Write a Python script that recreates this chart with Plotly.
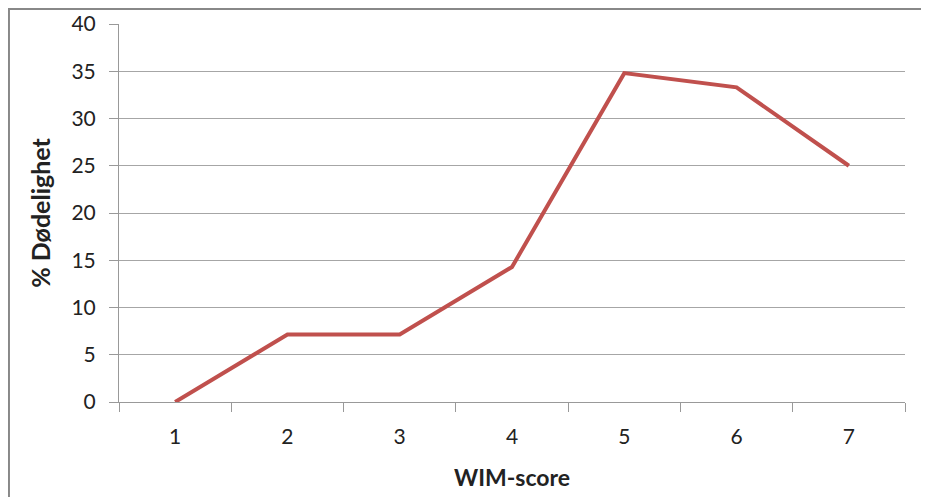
import plotly.graph_objects as go

wim_score = ["1", "2", "3", "4", "5", "6", "7"]
mortality_pct = [0, 7.14, 7.14, 14.29, 34.8, 33.3, 25.0]
y_ticks = [0, 5, 10, 15, 20, 25, 30, 35, 40]

fig = go.Figure(
    go.Scatter(
        x=wim_score,
        y=mortality_pct,
        mode="lines",
        line=dict(color="#C0504D", width=4),
    )
)

fig.update_layout(
    width=929,
    height=497,
    margin=dict(l=111, r=32, t=16, b=103),
    paper_bgcolor="white",
    plot_bgcolor="white",
    showlegend=False,
    font=dict(family="Lato, Liberation Sans, sans-serif", size=21, color="#222"),
)

fig.update_xaxes(
    type="category",
    range=[-0.5, 6.5],
    tickson="boundaries",
    ticks="outside",
    ticklen=9,
    tickcolor="#999",
    ticklabelstandoff=16,
    showline=True,
    linecolor="#999",
    linewidth=1,
    showgrid=False,
    automargin=False,
    title=dict(text="<b>WIM-score</b>", font=dict(size=23), standoff=22),
)

fig.update_yaxes(
    range=[0, 40],
    tickvals=y_ticks,
    ticks="outside",
    ticklen=9,
    tickcolor="#999",
    ticklabelstandoff=9,
    showline=True,
    linecolor="#999",
    linewidth=1,
    showgrid=True,
    gridcolor="#A6A6A6",
    zeroline=False,
    automargin=False,
    title=dict(text="<b>% Dødelighet</b>", font=dict(size=25), standoff=13),
)

# outer chart-area border (only left and top edges visible in the crop)
fig.add_shape(
    type="rect",
    xref="paper", yref="paper",
    x0=-0.14, x1=1.2, y0=-0.5, y1=1.0397,
    line=dict(color="#888", width=2),
)

fig.write_html("out.html")
